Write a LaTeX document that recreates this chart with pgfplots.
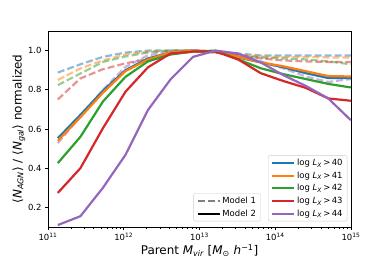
\documentclass[border=0pt]{standalone}
\usepackage{pgfplots}
\pgfplotsset{compat=1.18}
\usepackage{fontspec}
\setmainfont{DejaVu Sans}
\definecolor{c0}{HTML}{1F77B4}
\definecolor{c1}{HTML}{FF7F0E}
\definecolor{c2}{HTML}{2CA02C}
\definecolor{c3}{HTML}{D62728}
\definecolor{c4}{HTML}{9467BD}
\newcommand{\tk}{\fontsize{8.5}{10}\selectfont}
\newcommand{\lb}{\fontsize{12}{14}\selectfont}
\newcommand{\lx}[1]{log {\itshape L}\textsubscript{\itshape X}\,>\,#1}
\pgfplotsset{
  mystyle/.style={
    scale only axis, width=303bp, height=196bp,
    xmin=11, xmax=15, ymin=0.1, ymax=1.1,
  },
  solid2/.style={#1, line width=2.2bp, solid},
  dash1/.style={#1, line width=2.2bp, opacity=0.5, dash pattern=on 7bp off 3bp},
}
\begin{document}
\begin{tikzpicture}
\path (-48bp,-33bp) rectangle (342bp,227bp);
\begin{axis}[mystyle,
  axis line style={black, line width=0.6bp},
  tick style={black, line width=0.6bp},
  tick align=outside,
  xtick pos=left, ytick pos=left,
  major tick length=3bp, minor tick length=1.7bp,
  xtick={11,12,13,14,15},
  xticklabels={10\textsuperscript{11},10\textsuperscript{12},10\textsuperscript{13},10\textsuperscript{14},10\textsuperscript{15}},
  minor xtick={11.30103,11.47712,11.60206,11.69897,11.77815,11.84510,11.90309,11.95424,
               12.30103,12.47712,12.60206,12.69897,12.77815,12.84510,12.90309,12.95424,
               13.30103,13.47712,13.60206,13.69897,13.77815,13.84510,13.90309,13.95424,
               14.30103,14.47712,14.60206,14.69897,14.77815,14.84510,14.90309,14.95424},
  ytick={0.2,0.4,0.6,0.8,1.0},
  yticklabel style={/pgf/number format/.cd, fixed, fixed zerofill, precision=1, assume math mode=true},
  ticklabel style={font=\tk},
  xlabel={Parent {\itshape M}\textsubscript{\itshape vir} [{\itshape M}\textsubscript{⊙} {\itshape h}\textsuperscript{−1}]},
  ylabel={⟨{\itshape N}\textsubscript{\itshape AGN}⟩ / ⟨{\itshape N}\textsubscript{\itshape gal}⟩ normalized},
  label style={font=\lb},
  xlabel style={yshift=3bp},
  ylabel style={yshift=-4bp},
  legend style={at={(0.988,0.0286)}, anchor=south east, draw=black!20, rounded corners=2bp,
    fill=white, fill opacity=0.8, text opacity=1, font=\tk,
    nodes={inner sep=1.6bp}, row sep=1.5bp,
    /tikz/every even column/.append style={column sep=4bp}},
  legend cell align=left,
  legend image code/.code={\draw[#1] (0bp,0bp) -- (22bp,0bp);},
]
% Model 1 (dashed)
\addplot[dash1=c0, forget plot] coordinates {(11.13,0.888)(11.4275,0.93)(11.725,0.968)(12.0225,0.99)(12.32,1.0)(12.6175,1.0)(12.915,1.0)(13.2125,0.995)(13.51,0.985)(13.8075,0.975)(14.105,0.975)(14.4025,0.975)(14.70,0.975)(14.9975,0.975)};
\addplot[dash1=c1, forget plot] coordinates {(11.13,0.85)(11.4275,0.909)(11.725,0.95)(12.0225,0.98)(12.32,0.995)(12.6175,1.0)(12.915,1.0)(13.2125,0.995)(13.51,0.98)(13.8075,0.97)(14.105,0.968)(14.4025,0.968)(14.70,0.965)(14.9975,0.965)};
\addplot[dash1=c2, forget plot] coordinates {(11.13,0.824)(11.4275,0.883)(11.725,0.942)(12.0225,0.97)(12.32,0.99)(12.6175,1.0)(12.915,1.0)(13.2125,0.99)(13.51,0.975)(13.8075,0.965)(14.105,0.96)(14.4025,0.955)(14.70,0.945)(14.9975,0.93)};
\addplot[dash1=c3, forget plot] coordinates {(11.13,0.751)(11.4275,0.858)(11.725,0.905)(12.0225,0.935)(12.32,0.958)(12.6175,0.985)(12.915,0.995)(13.2125,0.99)(13.51,0.975)(13.8075,0.96)(14.105,0.95)(14.4025,0.945)(14.70,0.942)(14.9975,0.942)};
\addplot[dash1=c4, forget plot] coordinates {(11.13,0.528)(11.4275,0.663)(11.725,0.80)(12.0225,0.917)(12.32,0.976)(12.6175,0.995)(12.915,1.0)(13.2125,0.995)(13.51,0.975)(13.8075,0.945)(14.105,0.91)(14.4025,0.868)(14.70,0.84)(14.9975,0.855)};
% Model 2 (solid)
\addplot[solid2=c0] coordinates {(11.13,0.553)(11.4275,0.672)(11.725,0.795)(12.0225,0.90)(12.32,0.96)(12.6175,0.99)(12.915,1.0)(13.2125,0.995)(13.51,0.965)(13.8075,0.94)(14.105,0.915)(14.4025,0.885)(14.70,0.86)(14.9975,0.86)};
\addlegendentry{\lx{40}}
\addplot[solid2=c1] coordinates {(11.13,0.54)(11.4275,0.66)(11.725,0.785)(12.0225,0.895)(12.32,0.955)(12.6175,0.99)(12.915,1.0)(13.2125,0.995)(13.51,0.968)(13.8075,0.94)(14.105,0.92)(14.4025,0.895)(14.70,0.87)(14.9975,0.868)};
\addlegendentry{\lx{41}}
\addplot[solid2=c2] coordinates {(11.13,0.426)(11.4275,0.56)(11.725,0.74)(12.0225,0.866)(12.32,0.945)(12.6175,0.98)(12.915,0.995)(13.2125,1.0)(13.51,0.955)(13.8075,0.91)(14.105,0.88)(14.4025,0.855)(14.70,0.83)(14.9975,0.812)};
\addlegendentry{\lx{42}}
\addplot[solid2=c3] coordinates {(11.13,0.274)(11.4275,0.40)(11.725,0.604)(12.0225,0.79)(12.32,0.915)(12.6175,0.985)(12.915,0.995)(13.2125,0.995)(13.51,0.955)(13.8075,0.885)(14.105,0.845)(14.4025,0.81)(14.70,0.756)(14.9975,0.744)};
\addlegendentry{\lx{43}}
\addplot[solid2=c4] coordinates {(11.13,0.11)(11.4275,0.155)(11.725,0.30)(12.0225,0.468)(12.32,0.697)(12.6175,0.853)(12.915,0.968)(13.2125,1.0)(13.51,0.985)(13.8075,0.94)(14.105,0.875)(14.4025,0.82)(14.70,0.756)(14.9975,0.645)};
\addlegendentry{\lx{44}}
\end{axis}
\begin{axis}[mystyle, hide axis,
  legend style={at={(0.702,0.0286)}, anchor=south east, draw=black!20, rounded corners=2bp,
    fill=white, fill opacity=0.8, text opacity=1, font=\tk,
    nodes={inner sep=1.6bp}, row sep=1.5bp,
    /tikz/every even column/.append style={column sep=4bp}},
  legend cell align=left,
  legend image code/.code={\draw[#1] (0bp,0bp) -- (22bp,0bp);},
]
\addlegendimage{gray, line width=2.2bp, dash pattern=on 7bp off 3bp}
\addlegendentry{Model 1}
\addlegendimage{black, line width=2.2bp}
\addlegendentry{Model 2}
\end{axis}
\end{tikzpicture}
\end{document}
